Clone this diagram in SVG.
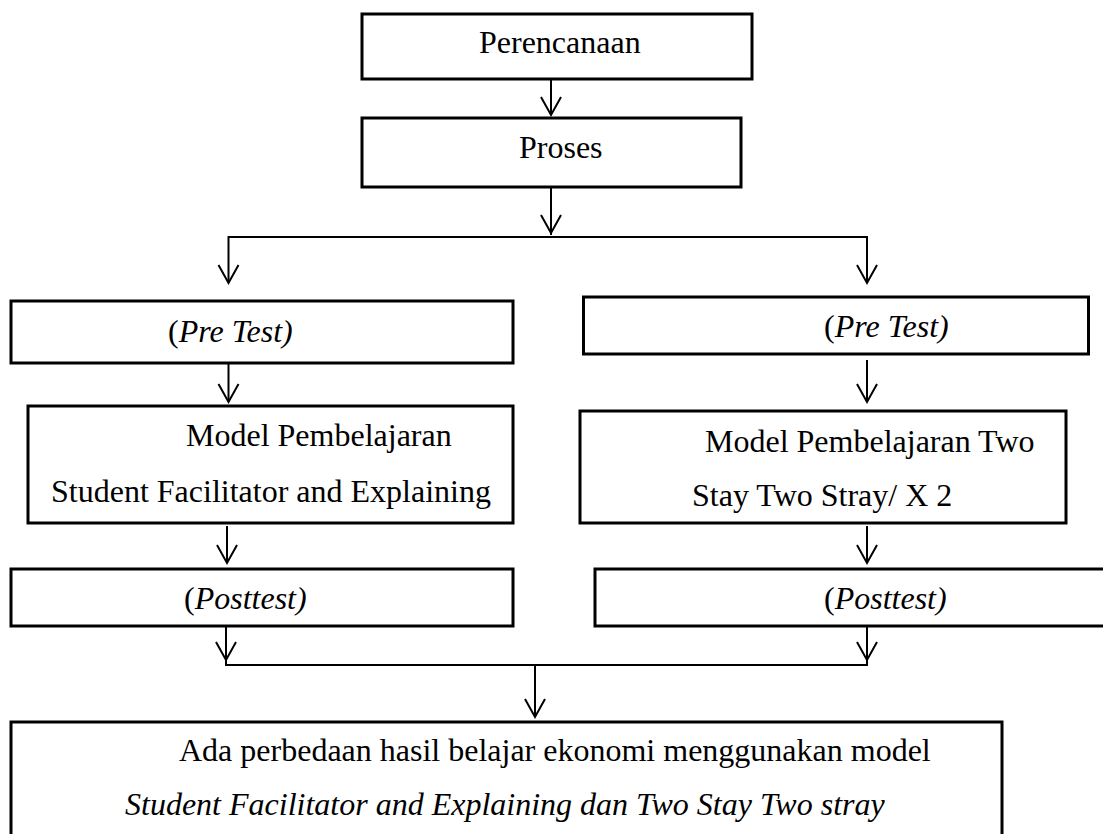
<svg xmlns="http://www.w3.org/2000/svg" width="1103" height="834" viewBox="0 0 1103 834">
<style>
.box{fill:#fff;stroke:#000;stroke-width:3}
.ln{fill:none;stroke:#000;stroke-width:2}
.hd{fill:none;stroke:#000;stroke-width:2;stroke-linejoin:miter}
text{font-family:"Liberation Serif","Times New Roman",serif;font-size:32px;fill:#000}
.it{font-style:italic}
</style>
<rect width="1103" height="834" fill="#fff"/>
<g id="connectors">
<line class="ln" x1="551" y1="79" x2="551" y2="115"/>
<polyline class="hd" points="541,97 551,115 561,97"/>
<line class="ln" x1="551" y1="187" x2="551" y2="235"/>
<polyline class="hd" points="541,215 551,233 561,215"/>
<polyline class="ln" points="228.5,283 228.5,237 867,237 867,283"/>
<polyline class="hd" points="218.5,265 228.5,283 238.5,265"/>
<polyline class="hd" points="857,265 867,283 877,265"/>
<line class="ln" x1="228.5" y1="364" x2="228.5" y2="402"/>
<polyline class="hd" points="218.5,384 228.5,402 238.5,384"/>
<line class="ln" x1="867" y1="360" x2="867" y2="402"/>
<polyline class="hd" points="857,384 867,402 877,384"/>
<line class="ln" x1="227" y1="526" x2="227" y2="563"/>
<polyline class="hd" points="217,545 227,563 237,545"/>
<line class="ln" x1="867" y1="526" x2="867" y2="563"/>
<polyline class="hd" points="857,545 867,563 877,545"/>
<polyline class="ln" points="226,627 226,665 867,665 867,627"/>
<polyline class="hd" points="216,642 226,660 236,642"/>
<polyline class="hd" points="857,642 867,660 877,642"/>
<line class="ln" x1="535" y1="665" x2="535" y2="717"/>
<polyline class="hd" points="525,699 535,717 545,699"/>
</g>
<g id="perencanaan">
<rect class="box" x="362" y="14" width="390" height="65"/>
<text x="479" y="53">Perencanaan</text>
</g>
<g id="proses">
<rect class="box" x="362" y="118" width="379" height="69"/>
<text x="519" y="158">Proses</text>
</g>
<g id="pretest-left">
<rect class="box" x="11" y="301" width="502" height="62"/>
<text x="168" y="342">(<tspan class="it">Pre Test)</tspan></text>
</g>
<g id="pretest-right">
<rect class="box" x="583.5" y="297" width="505" height="57"/>
<text x="824" y="337">(<tspan class="it">Pre Test)</tspan></text>
</g>
<g id="model-left">
<rect class="box" x="28" y="406" width="485" height="117"/>
<text x="186" y="446">Model Pembelajaran</text>
<text x="51" y="502">Student Facilitator and Explaining</text>
</g>
<g id="model-right">
<rect class="box" x="580" y="411" width="486" height="112"/>
<text x="705" y="452">Model Pembelajaran Two</text>
<text x="692" y="506">Stay Two Stray/ X 2</text>
</g>
<g id="posttest-left">
<rect class="box" x="11" y="569" width="502" height="57"/>
<text x="184" y="609">(<tspan class="it">Posttest)</tspan></text>
</g>
<g id="posttest-right">
<rect class="box" x="595" y="569" width="520" height="57"/>
<text x="824" y="609">(<tspan class="it">Posttest)</tspan></text>
</g>
<g id="kesimpulan">
<rect class="box" x="11" y="722" width="991" height="130"/>
<text x="179" y="761">Ada perbedaan hasil belajar ekonomi menggunakan model</text>
<text class="it" x="125" y="815">Student Facilitator and Explaining dan Two Stay Two stray</text>
</g>
</svg>
